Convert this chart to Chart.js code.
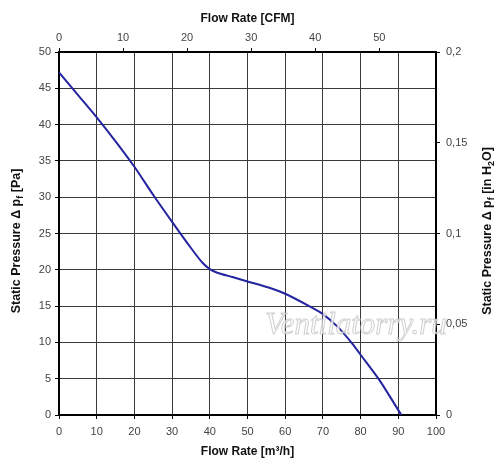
<!DOCTYPE html>
<html>
<head>
<meta charset="utf-8">
<script src="https://cdn.jsdelivr.net/npm/chart.js@4"></script>
<style>
  html, body { margin: 0; padding: 0; background: #fff; }
  #wrap { width: 500px; height: 470px; }
</style>
</head>
<body>
<div id="wrap"><canvas id="fanChart"></canvas></div>
<script>
"use strict";

// curve: flow in m3/h, static pressure in Pa
const flowM3h = [0, 5, 10, 15, 20, 25, 30, 35, 38, 40, 42, 46, 50, 56, 60, 66, 70, 74, 78, 80, 85, 90.8];
const pressurePa = [47.2, 44.1, 41.0, 37.7, 34.2, 30.3, 26.6, 23.0, 21.0, 20.1, 19.6, 19.0, 18.4, 17.5, 16.7, 15.1, 13.9, 12.1, 9.7, 8.3, 4.8, 0];

const m3hTicks = [0, 10, 20, 30, 40, 50, 60, 70, 80, 90, 100];
const cfmTicks = [0, 10, 20, 30, 40, 50];
const paTicks = [0, 5, 10, 15, 20, 25, 30, 35, 40, 45, 50];
const inH2OTicks = [0, 0.05, 0.1, 0.15, 0.2];

const M3H_PER_CFM = 1.699;

let points = [];
for (let i = 0; i < flowM3h.length; i++) {
  points.push({ x: flowM3h[i], y: pressurePa[i] });
}

const FAMILY = "'Liberation Sans', Arial, sans-serif";
const tickFont = { family: FAMILY, size: 11 };
const titleFont = { family: FAMILY, size: 12, weight: "bold" };

function fixWidth(w) {
  return function (scale) { scale.width = w; };
}
function fixHeight(h) {
  return function (scale) { scale.height = h; };
}
function useTicks(values) {
  return function (scale) {
    scale.ticks = values.map(function (v) { return { value: v }; });
  };
}

// vertical titles drawn by hand so the subscripts and the reading direction match
function drawVerticalTitle(ctx, parts, cx, cy) {
  const big = "bold 12.5px " + FAMILY;
  const small = "bold 9px " + FAMILY;
  let total = 0;
  parts.forEach(function (p) {
    ctx.font = p.sub ? small : big;
    total += ctx.measureText(p.text).width;
  });
  ctx.save();
  ctx.translate(cx, cy);
  ctx.rotate(-Math.PI / 2);
  ctx.fillStyle = "#111";
  ctx.textBaseline = "alphabetic";
  ctx.textAlign = "left";
  let x = -total / 2;
  parts.forEach(function (p) {
    ctx.font = p.sub ? small : big;
    ctx.fillText(p.text, x, p.sub ? 7 : 4);
    x += ctx.measureText(p.text).width;
  });
  ctx.restore();
}

const sideTitles = {
  id: "sideTitles",
  afterDraw(chart) {
    const ctx = chart.ctx;
    drawVerticalTitle(ctx, [
      { text: "Static Pressure Δ p" },
      { text: "f", sub: true },
      { text: " [Pa]" },
    ], 16, 241);
    drawVerticalTitle(ctx, [
      { text: "Static Pressure Δ p" },
      { text: "f", sub: true },
      { text: " [in H" },
      { text: "2", sub: true },
      { text: "O]" },
    ], 487, 231);
  },
};

const watermark = {
  id: "watermark",
  afterDraw(chart) {
    const ctx = chart.ctx;
    ctx.save();
    ctx.font = "italic 31px 'Liberation Serif', serif";
    ctx.textAlign = "center";
    ctx.textBaseline = "middle";
    ctx.fillStyle = "rgba(255,255,255,0.75)";
    ctx.strokeStyle = "rgba(170,170,170,0.55)";
    ctx.lineWidth = 1;
    ctx.fillText("Ventilatorry.ru", 356, 326);
    ctx.strokeText("Ventilatorry.ru", 356, 326);
    ctx.restore();
  },
};

const config = {
  type: "line",
  data: {
    datasets: [
      {
        data: points,
        borderColor: "#2424a0",
        borderWidth: 2,
        pointRadius: 0,
        tension: 0.25,
        xAxisID: "x",
        yAxisID: "y",
      },
    ],
  },
  options: {
    responsive: true,
    maintainAspectRatio: false,
    animation: false,
    layout: { padding: 0 },
    plugins: {
      legend: { display: false },
      tooltip: { enabled: false },
    },
    scales: {
      x: {
        type: "linear",
        position: "bottom",
        min: 0,
        max: 100,
        afterFit: fixHeight(55),
        afterBuildTicks: useTicks(m3hTicks),
        grid: { color: "#3a3a3a", lineWidth: 1, tickLength: 4, tickColor: "#000" },
        border: { color: "#000", width: 2 },
        ticks: { font: tickFont, color: "#444", padding: 6, maxRotation: 0 },
        title: { display: true, text: "Flow Rate [m³/h]", font: titleFont, color: "#111", padding: { top: 0, bottom: 11 } },
      },
      x2: {
        type: "linear",
        position: "top",
        min: 0,
        max: 100 / M3H_PER_CFM,
        afterFit: fixHeight(52),
        afterBuildTicks: useTicks(cfmTicks),
        grid: { drawOnChartArea: false, tickLength: 4, tickColor: "#000" },
        border: { color: "#000", width: 2 },
        ticks: { font: tickFont, color: "#444", padding: 3, maxRotation: 0 },
        title: { display: true, text: "Flow Rate [CFM]", font: titleFont, color: "#111", padding: { top: 11, bottom: 0 } },
      },
      y: {
        type: "linear",
        position: "left",
        min: 0,
        max: 50,
        afterFit: fixWidth(59),
        afterBuildTicks: useTicks(paTicks),
        grid: { color: "#3a3a3a", lineWidth: 1, tickLength: 4, tickColor: "#000" },
        border: { color: "#000", width: 2 },
        ticks: { font: tickFont, color: "#444", padding: 4 },
      },
      y2: {
        type: "linear",
        position: "right",
        min: 0,
        max: 0.2,
        afterFit: fixWidth(64),
        afterBuildTicks: useTicks(inH2OTicks),
        grid: { drawOnChartArea: false, tickLength: 4, tickColor: "#000" },
        border: { color: "#000", width: 2 },
        ticks: {
          font: tickFont,
          color: "#444",
          padding: 6,
          callback: function (v) { return String(Math.round(v * 100) / 100).replace(".", ","); },
        },
      },
    },
  },
  plugins: [sideTitles, watermark],
};

new Chart(document.getElementById("fanChart"), config);
</script>
</body>
</html>
